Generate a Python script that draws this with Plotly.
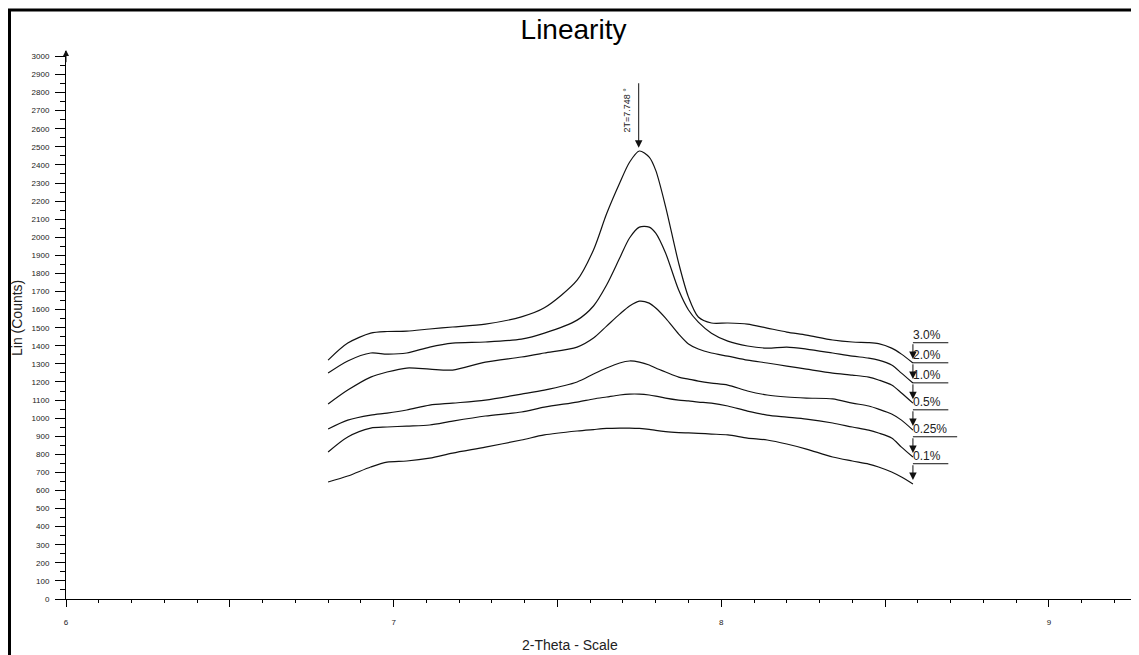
import plotly.graph_objects as go

# ---- data ----
two_theta = [6.80, 6.86, 6.93, 6.98, 7.04, 7.11, 7.18, 7.28, 7.39, 7.46, 7.56, 7.61,
             7.65, 7.69, 7.72, 7.75, 7.78, 7.80, 7.83, 7.87, 7.90, 7.93, 7.97, 8.02,
             8.08, 8.14, 8.20, 8.26, 8.34, 8.40, 8.45, 8.48, 8.52, 8.55, 8.585]

counts_3_0 = [1321, 1415, 1470, 1479, 1481, 1493, 1504, 1520, 1560, 1610, 1763, 1930,
              2130, 2300, 2415, 2477, 2443, 2370, 2170, 1857, 1669, 1559, 1526, 1526,
              1520, 1498, 1476, 1459, 1432, 1421, 1418, 1412, 1387, 1354, 1305]
counts_2_0 = [1249, 1316, 1360, 1354, 1360, 1393, 1415, 1421, 1437, 1470, 1542, 1620,
              1736, 1885, 1996, 2056, 2056, 2023, 1913, 1708, 1598, 1531, 1470, 1426,
              1399, 1387, 1393, 1382, 1360, 1343, 1332, 1321, 1294, 1249, 1194]
counts_1_0 = [1078, 1155, 1227, 1255, 1277, 1271, 1266, 1310, 1338, 1360, 1393, 1443,
              1509, 1575, 1620, 1647, 1636, 1609, 1553, 1465, 1410, 1382, 1360, 1343,
              1321, 1305, 1288, 1271, 1249, 1238, 1227, 1211, 1183, 1139, 1083]
counts_0_5 = [940, 989, 1017, 1028, 1045, 1072, 1083, 1100, 1133, 1155, 1200, 1244,
              1277, 1305, 1316, 1310, 1294, 1277, 1255, 1227, 1216, 1205, 1194, 1183,
              1150, 1128, 1117, 1111, 1106, 1083, 1067, 1050, 1023, 989, 934]
counts_0_25 = [813, 896, 945, 951, 956, 962, 984, 1012, 1034, 1061, 1089, 1106,
               1117, 1128, 1133, 1133, 1128, 1122, 1111, 1100, 1095, 1089, 1083, 1067,
               1039, 1017, 1006, 995, 973, 951, 934, 918, 890, 840, 785]
counts_0_1 = [647, 680, 730, 757, 763, 779, 807, 840, 879, 907, 929, 937,
              943, 945, 945, 943, 938, 932, 925, 920, 918, 916, 912, 907,
              890, 879, 857, 829, 785, 763, 746, 730, 702, 674, 636]

series = [counts_3_0, counts_2_0, counts_1_0, counts_0_5, counts_0_25, counts_0_1]
labels = ["3.0%", "2.0%", "1.0%", "0.5%", "0.25%", "0.1%"]

peak_2t = 7.748
peak_label = "2T=7.748 °"

y_ticks = list(range(0, 3001, 100))
x_major = [6, 6.5, 7, 7.5, 8, 8.5, 9]
x_text = ["6", "", "7", "", "8", "", "9"]

# ---- figure ----
FONT = "Liberation Sans, Arial, sans-serif"
LINE = "#111111"
W, H = 1131, 647          # page body has an 8px margin
L, T, B = 58, 43, 56
PW, PH = W - L, H - T - B


def px_x(p):
    """figure pixel -> paper x"""
    return (p - L) / PW


def px_y(p):
    """figure pixel -> paper y"""
    return (H - B - p) / PH


fig = go.Figure()
for vals, lab in zip(series, labels):
    fig.add_trace(go.Scatter(x=two_theta, y=vals, mode="lines", name=lab,
                             line=dict(color=LINE, width=1.2, shape="spline", smoothing=0.8),
                             hoverinfo="x+y+name"))

annotations = []
shapes = []
x_end = two_theta[-1]
for vals, lab in zip(series, labels):
    y_end = vals[-1]
    y_bar = y_end + 112
    shapes.append(dict(type="line", xref="x", yref="y", x0=x_end, x1=x_end + 0.027 * len(lab),
                       y0=y_bar, y1=y_bar, line=dict(color=LINE, width=1)))
    annotations.append(dict(x=x_end, y=y_end + 22, ax=x_end, ay=y_bar, xref="x", yref="y",
                            axref="x", ayref="y", text="", showarrow=True, arrowhead=2,
                            arrowsize=1.5, arrowwidth=1, arrowcolor=LINE))
    annotations.append(dict(x=x_end, y=y_bar, xref="x", yref="y", text=lab, showarrow=False,
                            xanchor="left", yanchor="bottom", xshift=-2, yshift=-1,
                            font=dict(family=FONT, size=12, color="#222222")))

# peak marker
peak_val = max(counts_3_0)
annotations.append(dict(x=peak_2t, y=peak_val + 18, ax=peak_2t, ay=2860, xref="x", yref="y",
                        axref="x", ayref="y", text="", showarrow=True, arrowhead=2,
                        arrowsize=1.5, arrowwidth=1, arrowcolor=LINE))
annotations.append(dict(x=peak_2t, y=2705, xref="x", yref="y", text=peak_label, showarrow=False,
                        textangle=-90, xshift=-12,
                        font=dict(family=FONT, size=9, color="#222222")))

# y-axis arrow
annotations.append(dict(x=6, y=3035, ax=6, ay=2960, xref="x", yref="y", axref="x", ayref="y",
                        text="", showarrow=True, arrowhead=2, arrowsize=1.2, arrowwidth=1,
                        arrowcolor=LINE))

# axis titles
annotations.append(dict(x=px_x(562), y=px_y(637), xref="paper", yref="paper",
                        text="2-Theta - Scale", showarrow=False, xanchor="center", yanchor="middle",
                        font=dict(family=FONT, size=14, color="#222222")))
annotations.append(dict(x=px_x(9), y=px_y(310), xref="paper", yref="paper",
                        text="Lin (Counts)", showarrow=False, textangle=-90,
                        xanchor="center", yanchor="middle",
                        font=dict(family=FONT, size=14, color="#222222")))

# frame lines (left and top)
shapes.append(dict(type="line", xref="paper", yref="paper",
                   x0=px_x(1.5), x1=px_x(1.5), y0=px_y(2), y1=px_y(H + 5),
                   line=dict(color="black", width=3)))
shapes.append(dict(type="line", xref="paper", yref="paper",
                   x0=px_x(0), x1=px_x(W + 5), y0=px_y(2), y1=px_y(2),
                   line=dict(color="black", width=3)))

fig.update_layout(
    width=W, height=H, autosize=False,
    margin=dict(l=L, r=0, t=T, b=B),
    paper_bgcolor="white", plot_bgcolor="white",
    showlegend=False,
    title=dict(text="Linearity", x=0.5, xref="container", xanchor="center",
               y=1 - 21 / H, yref="container", yanchor="middle",
               font=dict(family=FONT, size=28, color="black")),
    annotations=annotations, shapes=shapes,
    xaxis=dict(range=[6, 9.275], showgrid=False, zeroline=False, showline=True,
               linecolor="black", linewidth=1, ticks="outside", ticklen=7, tickwidth=1,
               tickcolor="black", tickvals=x_major, ticktext=x_text, ticklabelstandoff=8,
               tickfont=dict(family=FONT, size=8, color="#222222"),
               minor=dict(dtick=0.1, ticks="outside", ticklen=3, tickcolor="black", showgrid=False)),
    yaxis=dict(range=[0, 3030], showgrid=False, zeroline=False, showline=True,
               linecolor="black", linewidth=1, ticks="outside", ticklen=10, tickwidth=1,
               tickcolor="black", tickvals=y_ticks, ticklabelstandoff=4,
               tickfont=dict(family=FONT, size=8, color="#222222"),
               minor=dict(dtick=50, ticks="outside", ticklen=5, tickcolor="black", showgrid=False)),
)

fig.write_html("out.html")
